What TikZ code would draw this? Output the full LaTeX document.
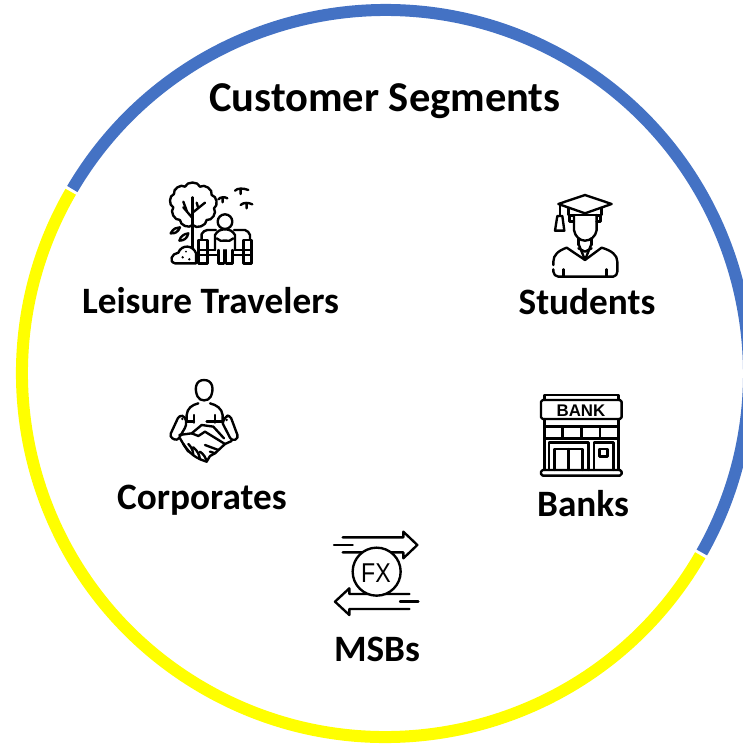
\documentclass[tikz,border=0pt]{standalone}
\usepackage{fontspec}
\setmainfont{Carlito}
\newfontfamily\iconfont{Liberation Sans}
\usepackage{xcolor}
\definecolor{ringblue}{HTML}{4472C4}
\definecolor{ringyellow}{HTML}{FFFF00}
\tikzset{
    segment/.style={font=\bfseries\fontsize{21.2}{24}\selectfont, inner sep=0pt},
    ringarc/.style={line width=.24cm},
    iconpen/.style={x=.02cm/3, y=-.02cm/3, line width=1.35pt, line join=round, line cap=round},
    pics/treeicon/.style={code={
        \begin{scope}[iconpen]
        \draw (90,150) to[bend left=70] (70,112) to[bend left=70] (72,72) to[bend left=70] (105,50)
            to[bend left=70] (150,50) to[bend left=70] (185,75) to[bend left=70] (192,115)
            to[bend left=70] (170,150) to[bend left=70] (128,165) to[bend left=70] (90,150);
        \draw (128,235) -- (128,82);
        \draw (128,145) -- (100,112) (128,128) -- (165,98) (145,115) -- (140,98) (110,122) -- (100,95);
        \draw (62,190) .. controls (70,175) and (80,172) .. (90,172) .. controls (85,185) and (75,192) .. (62,190);
        \draw (88,212) .. controls (92,198) and (102,192) .. (115,190) .. controls (112,205) and (102,212) .. (88,212);
        \draw (75,280) .. controls (55,275) and (65,250) .. (85,248) .. controls (95,222) and (130,225) .. (138,250) -- (138,280) -- cycle;
        \fill (98,262) circle (4) (118,268) circle (4) (108,245) circle (3);
        % bird trio
        \draw (205,88) .. controls (212,80) and (225,80) .. (232,85) (218,85) -- (218,97);
        \draw (255,62) .. controls (262,54) and (280,54) .. (295,60) (272,60) -- (272,72);
        \draw (272,105) .. controls (280,97) and (295,97) .. (307,103) (290,102) -- (290,115);
        % person on bench
        \draw (225,155) circle (22);
        \draw (155,208) -- (155,192) to[bend left=25] (172,180) -- (198,180);
        \draw (252,180) -- (285,180) to[bend left=25] (300,195) -- (300,208);
        \draw (195,240) -- (195,195) to[bend left=30] (225,178) to[bend left=30] (255,195) -- (255,240);
        \draw (200,205) to[bend right=30] (225,212) to[bend right=30] (250,205);
        \draw (205,240) -- (205,280) -- (222,280) -- (222,240) (228,240) -- (228,280) -- (248,280) -- (248,240);
        \draw (145,280) -- (145,210) -- (172,210) -- (172,280) -- cycle;
        \draw (280,280) -- (280,210) -- (305,210) -- (305,280) -- cycle;
        \draw (145,240) -- (195,240) (255,240) -- (305,240) (145,255) -- (200,255) (250,255) -- (305,255);
        \end{scope}
    }},
    pics/gradicon/.style={code={
        \begin{scope}[iconpen]
        \draw (85,72) -- (165,45) -- (245,72) -- (165,100) -- cycle;
        \draw (115,85) -- (115,105) -- (215,105) -- (215,85);
        \draw (90,75) -- (90,108);
        \draw (82,108) -- (97,108) -- (103,152) -- (75,152) -- cycle;
        \draw (132,105) -- (132,150) .. controls (135,170) and (150,182) .. (165,182) .. controls (180,182) and (198,170) .. (200,150) -- (200,105);
        \draw (132,108) -- (118,108) -- (118,125) -- (132,125) (200,108) -- (212,108) -- (212,125) -- (200,125);
        \draw (145,175) -- (145,195) (185,175) -- (185,195);
        \draw (145,190) -- (165,240) -- (185,190) (145,205) -- (165,215) -- (185,205);
        \draw (165,240) -- (110,203) .. controls (85,212) and (70,225) .. (70,245) -- (70,255);
        \draw (165,240) -- (215,203) .. controls (245,212) and (262,225) .. (262,245) -- (262,275) to[bend left=40] (250,290) -- (85,290) to[bend left=40] (70,275) -- (70,268);
        \draw (100,268) -- (100,290) (230,268) -- (230,290);
        \end{scope}
    }},
    pics/shakeicon/.style={code={
        \begin{scope}[iconpen]
        \draw (162,30) .. controls (190,30) and (192,60) .. (182,80) .. controls (175,95) and (150,95) .. (143,80) .. controls (133,60) and (135,30) .. (162,30) -- cycle;
        \draw (110,155) -- (110,135) .. controls (112,115) and (125,105) .. (145,100) (180,100) .. controls (200,105) and (215,115) .. (218,135) -- (218,155);
        \draw (110,155) -- (132,155) (132,135) -- (132,158) (195,135) -- (195,158) (170,155) -- (218,155);
        \draw[rounded corners=2pt] (58,200) -- (88,135) -- (106,140) -- (110,165) -- (82,213) -- cycle;
        \draw[rounded corners=2pt] (218,160) -- (225,140) -- (240,135) -- (266,205) -- (245,213) -- (218,160);
        \fill (97,147) circle (4) (230,150) circle (4);
        \draw (88,195) -- (125,190) (125,190) -- (155,165) -- (190,170) -- (222,205);
        \draw (125,190) -- (145,198) -- (165,185) -- (225,222) -- (245,213);
        \draw (100,222) -- (90,205);
        \draw (100,222) -- (115,245) (115,222) to[bend left=20] (130,255) (130,232) to[bend left=20] (150,268) (150,245) to[bend left=20] (170,275);
        \draw (100,222) to[bend right=20] (170,275) -- (180,258);
        \draw (165,225) -- (205,240) (180,245) -- (195,250);
        \draw (225,222) -- (195,250) -- (180,258);
        \end{scope}
    }},
    pics/bankicon/.style={code={
        \begin{scope}[iconpen]
        \draw (58,45) -- (58,30) -- (280,30) -- (280,45);
        \draw[rounded corners=1pt] (48,45) rectangle (290,102);
        \node[inner sep=0pt, font=\iconfont\bfseries\fontsize{9.6}{10}\selectfont] (banksign) at (168,78) {BANK};
        \draw (58,102) -- (58,255) (280,102) -- (280,255);
        \draw (58,125) -- (280,125) (58,160) -- (280,160);
        \draw (112,125) -- (112,160) (170,125) -- (170,160) (225,125) -- (225,160);
        \draw (72,255) -- (72,172) -- (190,172) -- (190,255);
        \draw (88,255) -- (88,192) -- (172,192) -- (172,255) (130,192) -- (130,255);
        \draw (207,255) -- (207,172) -- (265,172) -- (265,255);
        \draw (223,192) rectangle (247,215);
        \draw[rounded corners=1pt] (48,255) rectangle (290,272);
        \end{scope}
    }},
    pics/fxicon/.style={code={
        \begin{scope}[iconpen]
        \draw (68,52) -- (250,52) -- (250,35) -- (292,75) -- (250,115) -- (250,97) -- (68,97);
        \draw (42,75) -- (98,75);
        \draw (268,222) -- (88,222) -- (88,205) -- (45,245) -- (88,285) -- (88,267) -- (268,267);
        \draw (240,245) -- (295,245);
        \draw[fill=white] (170,155) circle (72);
        \node[inner sep=0pt, font=\iconfont\fontsize{15.5}{15.5}\selectfont, xscale=.85] (fxsign) at (168,160) {FX};
        \end{scope}
    }},
}
\begin{document}
\begin{tikzpicture}[x=.02cm, y=.02cm]
    \useasboundingbox (0,0) rectangle (743,745);
    \coordinate (ring) at (385.5,371.5);

    \draw[ringarc, ringyellow] (ring) ++(150:363.5) arc[start angle=150, end angle=330, radius=363.5];
    \draw[ringarc, ringblue] (ring) ++(149.5:363.5) arc[start angle=149.5, end angle=-29.5, radius=363.5];

    \node[segment, font=\bfseries\fontsize{24.2}{28}\selectfont] (title) at (385,644) {Customer Segments};

    \pic (tree) at (150,575) {treeicon};
    \node[segment] (leisure) at (210.5,444) {Leisure Travelers};

    \pic (grad) at (530,565) {gradicon};
    \node[segment] (students) at (587,443) {Students};

    \pic (shake) at (150,375) {shakeicon};
    \node[segment] (corporates) at (202,245) {Corporates};

    \pic (bank) at (525,360) {bankicon};
    \node[segment] (banks) at (583,241) {Banks};

    \pic (fx) at (320,225) {fxicon};
    \node[segment] (msbs) at (377,96) {MSBs};
\end{tikzpicture}
\end{document}
